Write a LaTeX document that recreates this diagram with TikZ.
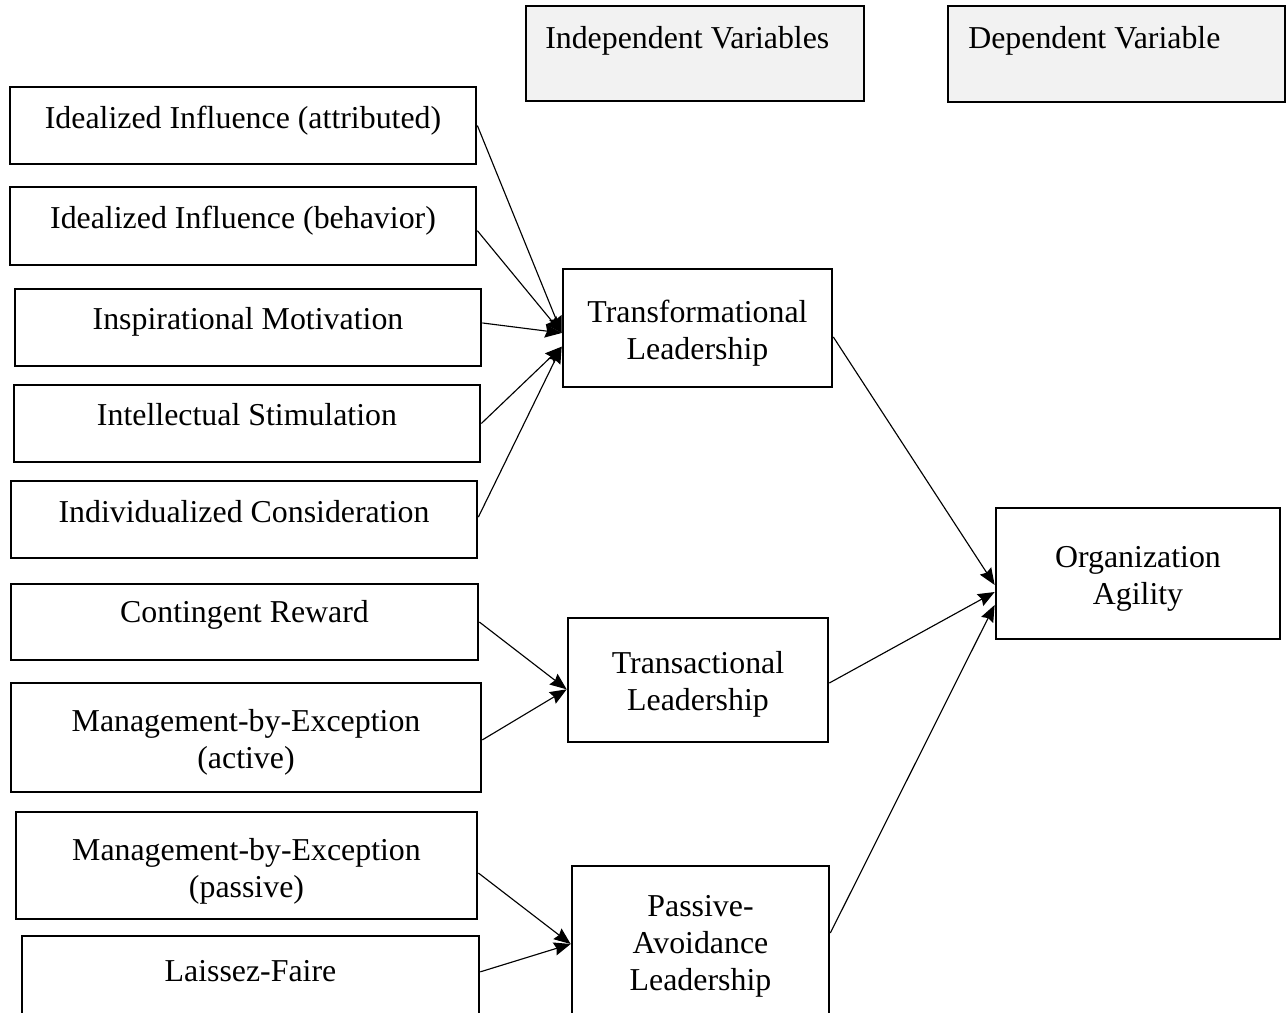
\documentclass[tikz,border=0pt]{standalone}
\usepackage{fontspec}
\setmainfont{Liberation Serif}
\usetikzlibrary{arrows.meta}
\definecolor{hdrgray}{HTML}{F2F2F2}
\begin{document}
\begin{tikzpicture}[x=0.75pt,y=-0.75pt,
  sz/.style 2 args={minimum width=#1*0.75pt, minimum height=#2*0.75pt},
  box/.style={draw, line width=2pt, inner sep=0pt},
  hdr/.style={draw, line width=1.1pt, fill=hdrgray, inner sep=0pt},
  txt/.style={font=\fontsize{23.9}{27.75}\selectfont, align=center, inner sep=0pt},
  conn/.style={-{Stealth[length=12.5pt,width=10pt,inset=1.5pt]}, line width=0.85pt}]
\clip (0,0) rectangle (1286,1013);
\useasboundingbox (0,0) rectangle (1286,1013);

% header boxes
\node[hdr, sz={338}{95}] (iv) at (695,53.5) {};
\node[txt, anchor=west] (ivt) at (545,41.3) {\strut Independent Variables};
\node[hdr, sz={337}{96}] (dv) at (1116.5,54) {};
\node[txt, anchor=west] (dvt) at (968,41.3) {\strut Dependent Variable};

% dimension boxes
\node[box, sz={466}{77}] (iia) at (243,125.5) {};
\node[txt] (iiat) at (243,121.3) {\strut Idealized Influence (attributed)};
\node[box, sz={466}{78}] (iib) at (243,226) {};
\node[txt] (iibt) at (243,221) {\strut Idealized Influence (behavior)};
\node[box, sz={466}{77}] (im) at (248,327.5) {};
\node[txt] (imt) at (248,322) {\strut Inspirational Motivation};
\node[box, sz={466}{77}] (is) at (247,423.5) {};
\node[txt] (ist) at (247,418) {\strut Intellectual Stimulation};
\node[box, sz={466}{77}] (ic) at (244,519.5) {};
\node[txt] (ict) at (244,515) {\strut Individualized Consideration};
\node[box, sz={467}{76}] (cr) at (244.5,622) {};
\node[txt] (crt) at (244.5,615) {\strut Contingent Reward};
\node[box, sz={470}{109}] (mba) at (246,737.5) {};
\node[txt] (mbat) at (246,742.5) {\strut Management-by-Exception\\(active)\strut};
\node[box, sz={461}{107}] (mbp) at (246.5,865.5) {};
\node[txt] (mbpt) at (246.5,871.5) {\strut Management-by-Exception\\(passive)\strut};
\node[box, sz={457}{109}] (lf) at (250.5,990.5) {};
\node[txt] (lft) at (250.5,974) {\strut Laissez-Faire};

% leadership styles
\node[box, sz={269}{118}] (tf) at (697.5,328) {};
\node[txt] (tft) at (697.5,333.5) {\strut Transformational\\Leadership\strut};
\node[box, sz={260}{124}] (ta) at (698,680) {};
\node[txt] (tat) at (698,684.5) {\strut Transactional\\Leadership\strut};
\node[box, sz={257}{164}] (pa) at (700.5,948) {};
\node[txt] (pat) at (700.5,946) {\strut Passive-\\Avoidance\\Leadership\strut};

% outcome
\node[box, sz={284}{131}] (oa) at (1138,573.5) {};
\node[txt] (oat) at (1138,578.5) {\strut Organization\\Agility\strut};

% dimensions -> styles
\draw[conn] (iia.east) -- ([yshift=-3.75pt]tf.west);
\draw[conn] ([yshift=-3.5pt]iib.east) -- ([yshift=-3.75pt]tf.west);
\draw[conn] ([yshift=3.4pt]im.east) -- ([yshift=-3.75pt]tf.west);
\draw[conn] (is.east) -- ([yshift=-14pt]tf.west);
\draw[conn] ([yshift=1.8pt]ic.east) -- ([yshift=-14pt]tf.west);
\draw[conn] (cr.east) -- ([yshift=-7pt]ta.west);
\draw[conn] ([yshift=-1.8pt]mba.east) -- ([yshift=-7pt]ta.west);
\draw[conn] ([yshift=-5.6pt]mbp.east) -- ([yshift=3pt]pa.west);
\draw[conn] ([yshift=14pt]lf.east) -- ([yshift=3pt]pa.west);

% styles -> outcome
\draw[conn] ([yshift=-6.75pt]tf.east) -- ([yshift=-8.6pt]oa.west);
\draw[conn] ([yshift=-2.25pt]ta.east) -- ([yshift=-13.9pt]oa.west);
\draw[conn] ([yshift=11.25pt]pa.east) -- ([yshift=-23.6pt]oa.west);
\end{tikzpicture}
\end{document}
